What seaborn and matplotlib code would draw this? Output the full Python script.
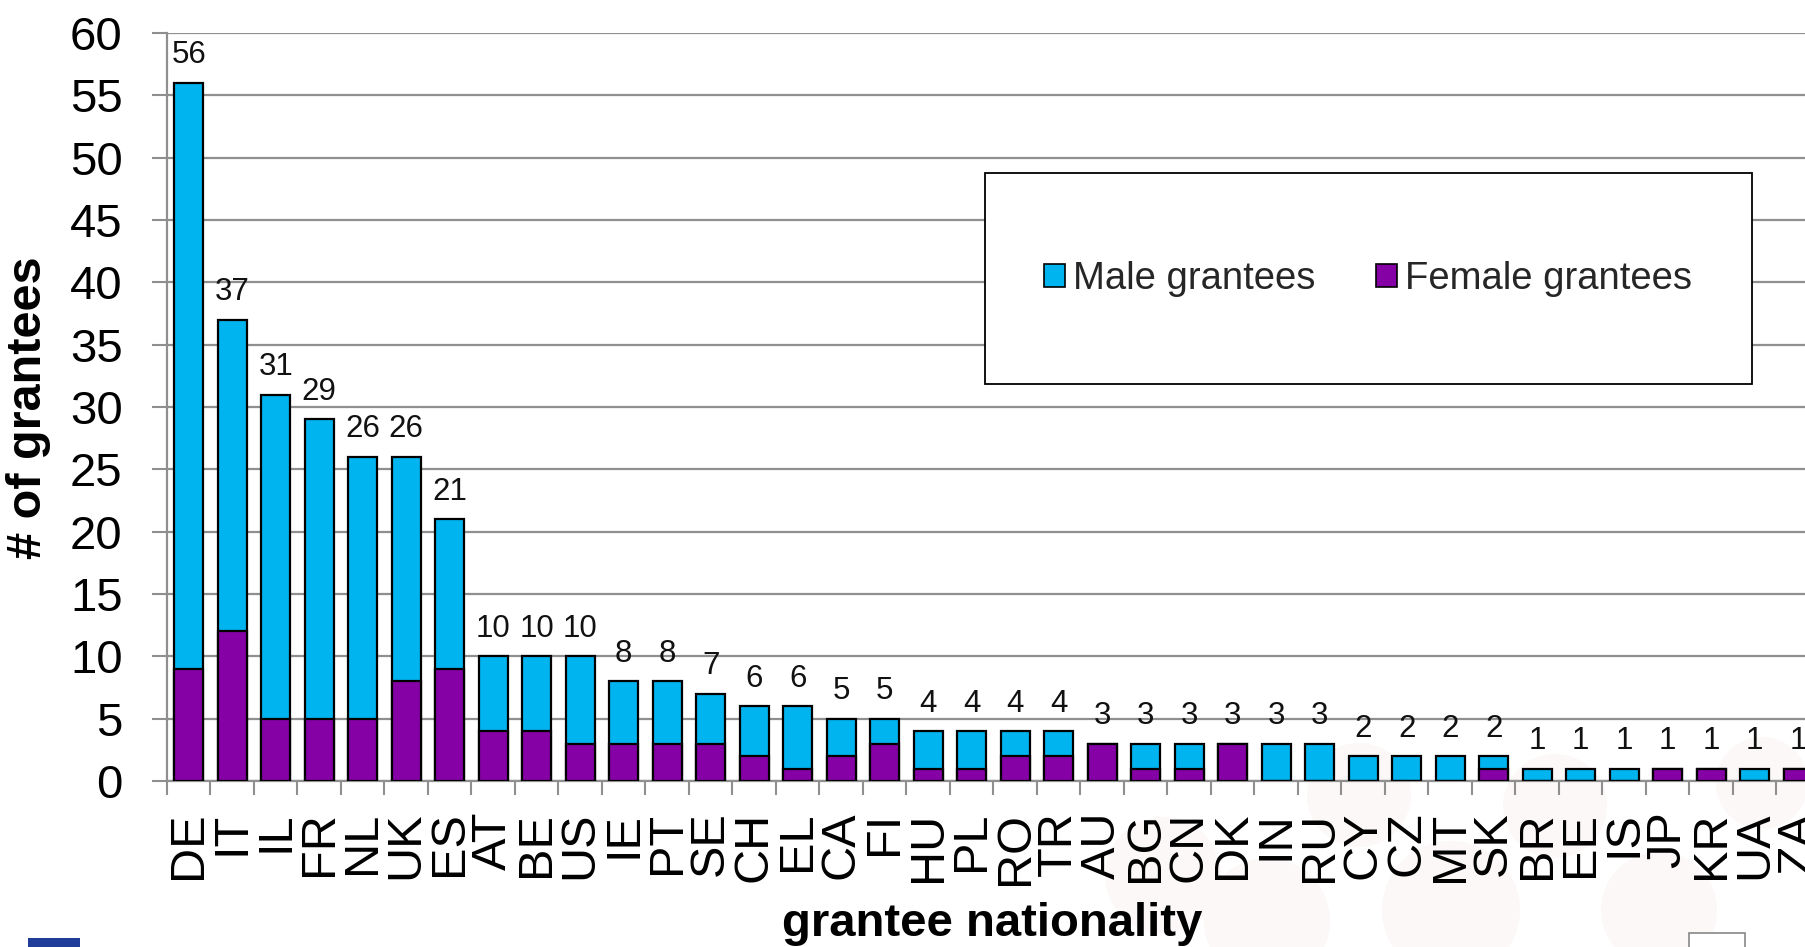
import matplotlib
matplotlib.use("Agg")
import matplotlib.pyplot as plt
import seaborn as sns
import numpy as np
import pandas as pd
from matplotlib.patches import Patch, Rectangle, Circle

countries = ["DE", "IT", "IL", "FR", "NL", "UK", "ES", "AT", "BE", "US", "IE", "PT", "SE",
             "CH", "EL", "CA", "FI", "HU", "PL", "RO", "TR", "AU", "BG", "CN", "DK", "IN",
             "RU", "CY", "CZ", "MT", "SK", "BR", "EE", "IS", "JP", "KR", "UA", "ZA"]
totals = [56, 37, 31, 29, 26, 26, 21, 10, 10, 10, 8, 8, 7,
          6, 6, 5, 5, 4, 4, 4, 4, 3, 3, 3, 3, 3,
          3, 2, 2, 2, 2, 1, 1, 1, 1, 1, 1, 1]
female = [9, 12, 5, 5, 5, 8, 9, 4, 4, 3, 3, 3, 3,
          2, 1, 2, 3, 1, 1, 2, 2, 3, 1, 1, 3, 0,
          0, 0, 0, 0, 1, 0, 0, 0, 1, 1, 0, 1]
yticks = [0, 5, 10, 15, 20, 25, 30, 35, 40, 45, 50, 55, 60]
series_names = ["Male grantees", "Female grantees"]

BLUE = "#00B4F0"
PURPLE = "#8500A5"
GRID = "#8f8f8f"

sns.set_theme(style="white")
plt.rcParams["font.family"] = ["Liberation Sans", "DejaVu Sans"]

W, H = 1806, 947
fig = plt.figure(figsize=(W / 100, H / 100), dpi=100)
fig.patch.set_facecolor("white")

# faint decorative background circles
bg = fig.add_axes([0, 0, 1, 1], zorder=-5)
bg.set_xlim(0, W)
bg.set_ylim(H, 0)
bg.axis("off")
for cx, cy, r in [(1163, 875, 58), (1267, 921, 63), (1359, 795, 52), (1451, 910, 69),
                  (1555, 806, 52), (1659, 910, 58), (1762, 783, 46)]:
    bg.add_patch(Circle((cx, cy), r, color="#fbf8f7", lw=0))
bg.add_patch(Rectangle((28, 938), 52, 9, color="#1f3d99", lw=0))
bg.add_patch(Rectangle((1689, 933), 56, 16, facecolor="white", edgecolor="#888888", lw=1.2))

ax = fig.add_axes([167 / W, 1 - 781 / H, 1653 / W, 748 / H], zorder=1)
ax.patch.set_alpha(0)

df = pd.DataFrame({"country": countries, "total": totals, "female": female})
sns.barplot(data=df, x="country", y="total", color=BLUE, saturation=1, width=0.67,
            edgecolor="black", linewidth=1.6, ax=ax, zorder=3)
sns.barplot(data=df, x="country", y="female", color=PURPLE, saturation=1, width=0.67,
            edgecolor="black", linewidth=1.6, ax=ax, zorder=4)

ax.bar_label(ax.containers[0], labels=[str(t) for t in totals], padding=9,
             fontsize=22.5, color="#111111", zorder=6)

ax.set_xlim(-0.5, len(countries) - 0.5)
ax.set_ylim(0, 60)
ax.set_yticks(yticks)
ax.set_yticklabels([str(v) for v in yticks], fontsize=34, color="black")
ax.yaxis.grid(True, color=GRID, linewidth=1.6, zorder=0)
ax.set_axisbelow(True)
ax.tick_params(axis="y", direction="out", length=11, width=1.5, color=GRID, pad=21, left=True)

ax.set_xticks(range(len(countries)))
ax.set_xticklabels(countries, rotation=90, fontsize=35, color="black")
ax.tick_params(axis="x", which="major", length=0, pad=22)
ax.set_xticks(np.arange(-0.5, len(countries), 1.0), minor=True)
ax.tick_params(axis="x", which="minor", direction="out", length=10, width=1.5, color=GRID, bottom=True)

for s in ["top", "right"]:
    ax.spines[s].set_visible(False)
for s in ["left", "bottom"]:
    ax.spines[s].set_color(GRID)
    ax.spines[s].set_linewidth(1.6)
ax.set_xlabel("")
ax.set_ylabel("")

fig.text(29 / W, 0.5700, "# of grantees", rotation=90, ha="center", va="center",
         fontsize=35, fontweight="bold", color="black")
fig.text(992 / W, 1 - 936 / H, "grantee nationality", ha="center", va="baseline",
         fontsize=34, fontweight="bold", color="black")

# legend frame and entries
fig.add_artist(Rectangle((985 / W, 1 - 384 / H), (1752 - 985) / W, (384 - 173) / H,
                         transform=fig.transFigure, facecolor="white", edgecolor="black",
                         lw=1.3, zorder=5))
handles = [Patch(facecolor=BLUE, edgecolor="black", lw=1.2),
           Patch(facecolor=PURPLE, edgecolor="black", lw=1.2)]
leg = fig.legend(handles, series_names, loc="center", bbox_to_anchor=(1368 / W, 1 - 279 / H),
                 bbox_transform=fig.transFigure, ncol=2, frameon=False, fontsize=27.5,
                 handlelength=0.55, handleheight=0.55, handletextpad=0.2, columnspacing=1.6)
leg.set_zorder(6)

fig.savefig("out.png", dpi=100, facecolor="white")
